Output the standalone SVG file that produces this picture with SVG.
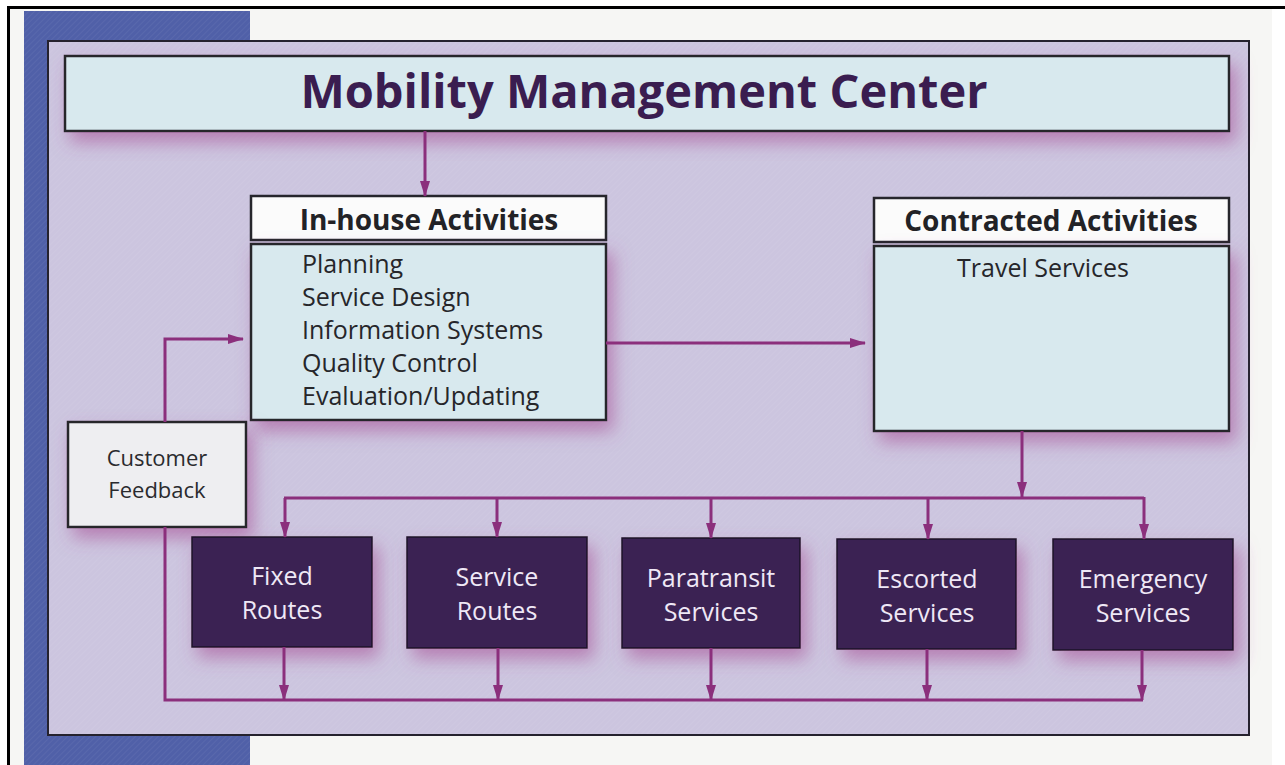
<svg xmlns="http://www.w3.org/2000/svg" width="1285" height="765" viewBox="0 0 1285 765">
  <defs>
    <style>
      .txt { font-family: "Open Sans", "Liberation Sans", sans-serif; }
      .title { font-size: 46px; font-weight: bold; fill: #3a1d50; }
      .head { font-size: 28px; font-weight: bold; fill: #222226; }
      .list { font-size: 25px; fill: #26262a; }
      .cf { font-size: 22px; fill: #2a2a2e; }
      .dark { font-size: 25px; fill: #efe8f6; }
      .lightbox { fill: #d8e9ee; stroke: #26262c; stroke-width: 2.5; }
      .whitebox { fill: #fbfbfb; stroke: #26262c; stroke-width: 2.5; }
      .darkbox { fill: #3a2452; stroke: #1e1428; stroke-width: 1.5; }
      .conn { fill: none; stroke: #8b2f7c; stroke-width: 3; }
    </style>
    <marker id="arr" viewBox="0 0 16 10" refX="15" refY="5" markerWidth="16" markerHeight="10" markerUnits="userSpaceOnUse" orient="auto">
      <path d="M0,0 L16,5 L0,10 Z" fill="#8b2f7c"/>
    </marker>
    <filter id="shadow" x="-20%" y="-30%" width="140%" height="170%">
      <feGaussianBlur in="SourceAlpha" stdDeviation="9"/>
      <feOffset dx="6" dy="10" result="b"/>
      <feFlood flood-color="#a3458f" flood-opacity="0.55"/>
      <feComposite in2="b" operator="in" result="s"/>
      <feMerge><feMergeNode in="s"/><feMergeNode in="SourceGraphic"/></feMerge>
    </filter>
    <pattern id="hatch" width="4" height="4" patternUnits="userSpaceOnUse" patternTransform="rotate(45)">
      <line x1="0" y1="0" x2="0" y2="4" stroke="#ffffff" stroke-width="1" stroke-opacity="0.1"/>
    </pattern>
  </defs>

  <!-- page background -->
  <rect x="0" y="0" width="1285" height="765" fill="#ffffff"/>
  <rect x="9" y="9" width="1263" height="756" fill="#f6f6f4"/>
  <rect x="24" y="11" width="226" height="754" fill="#5060a8"/>
  <rect x="24" y="11" width="226" height="754" fill="url(#hatch)"/>
  <line x1="8" y1="7.5" x2="1285" y2="7.5" stroke="#000" stroke-width="3"/>
  <line x1="8.5" y1="6" x2="8.5" y2="765" stroke="#000" stroke-width="3"/>

  <!-- main panel -->
  <rect x="48" y="41" width="1201" height="694" fill="#ccc5df" stroke="#25222e" stroke-width="2"/>
  <rect x="49" y="42" width="1199" height="692" fill="url(#hatch)"/>

  <!-- title -->
  <g id="title">
    <rect x="65" y="56" width="1164" height="75" class="lightbox" filter="url(#shadow)"/>
    <text x="644" y="108" text-anchor="middle" class="txt title" textLength="687" lengthAdjust="spacingAndGlyphs">Mobility Management Center</text>
  </g>

  <!-- in-house -->
  <g id="inhouse-header">
    <rect x="251" y="196" width="355" height="44" class="whitebox"/>
    <text x="429" y="230" text-anchor="middle" class="txt head">In-house Activities</text>
  </g>
  <g id="inhouse-body">
    <rect x="251" y="244" width="355" height="176" class="lightbox" filter="url(#shadow)"/>
    <text x="302" y="273" class="txt list">Planning</text>
    <text x="302" y="306" class="txt list">Service Design</text>
    <text x="302" y="339" class="txt list">Information Systems</text>
    <text x="302" y="372" class="txt list">Quality Control</text>
    <text x="302" y="405" class="txt list">Evaluation/Updating</text>
  </g>

  <!-- contracted -->
  <g id="contracted-header">
    <rect x="874" y="198" width="355" height="44" class="whitebox"/>
    <text x="1051" y="231" text-anchor="middle" class="txt head">Contracted Activities</text>
  </g>
  <g id="contracted-body">
    <rect x="874" y="246" width="355" height="185" class="lightbox" filter="url(#shadow)"/>
    <text x="1043" y="277" text-anchor="middle" class="txt list">Travel Services</text>
  </g>

  <!-- customer feedback -->
  <g id="customer-feedback">
    <rect x="68" y="422" width="178" height="105" fill="#eeeef1" stroke="#26262c" stroke-width="2.5" filter="url(#shadow)"/>
    <text x="157" y="466" text-anchor="middle" class="txt cf">Customer</text>
    <text x="157" y="498" text-anchor="middle" class="txt cf">Feedback</text>
  </g>

  <!-- service boxes -->
  <g id="fixed-routes">
    <rect x="192" y="537" width="180" height="110" class="darkbox" filter="url(#shadow)"/>
    <text x="282" y="585" text-anchor="middle" class="txt dark">Fixed</text>
    <text x="282" y="619" text-anchor="middle" class="txt dark">Routes</text>
  </g>
  <g id="service-routes">
    <rect x="407" y="537" width="180" height="111" class="darkbox" filter="url(#shadow)"/>
    <text x="497" y="586" text-anchor="middle" class="txt dark">Service</text>
    <text x="497" y="620" text-anchor="middle" class="txt dark">Routes</text>
  </g>
  <g id="paratransit-services">
    <rect x="622" y="538" width="178" height="110" class="darkbox" filter="url(#shadow)"/>
    <text x="711" y="587" text-anchor="middle" class="txt dark">Paratransit</text>
    <text x="711" y="621" text-anchor="middle" class="txt dark">Services</text>
  </g>
  <g id="escorted-services">
    <rect x="837" y="539" width="179" height="110" class="darkbox" filter="url(#shadow)"/>
    <text x="927" y="588" text-anchor="middle" class="txt dark">Escorted</text>
    <text x="927" y="622" text-anchor="middle" class="txt dark">Services</text>
  </g>
  <g id="emergency-services">
    <rect x="1053" y="539" width="180" height="111" class="darkbox" filter="url(#shadow)"/>
    <text x="1143" y="588" text-anchor="middle" class="txt dark">Emergency</text>
    <text x="1143" y="622" text-anchor="middle" class="txt dark">Services</text>
  </g>

  <!-- connectors -->
  <g id="connectors">
    <path class="conn" d="M425,131 L425,196" marker-end="url(#arr)"/>
    <path class="conn" d="M606,343 L865,343" marker-end="url(#arr)"/>
    <path class="conn" d="M165,422 L165,339 L243,339" marker-end="url(#arr)"/>
    <path class="conn" d="M1022,431 L1022,497" marker-end="url(#arr)"/>
    <path class="conn" d="M284,498 L1144,498"/>
    <path class="conn" d="M285,498 L285,537" marker-end="url(#arr)"/>
    <path class="conn" d="M497,498 L497,537" marker-end="url(#arr)"/>
    <path class="conn" d="M711,498 L711,538" marker-end="url(#arr)"/>
    <path class="conn" d="M928,498 L928,539" marker-end="url(#arr)"/>
    <path class="conn" d="M1144,497 L1144,539" marker-end="url(#arr)"/>
    <path class="conn" d="M165,527 L165,700 L1143,700"/>
    <path class="conn" d="M284,647 L284,700" marker-end="url(#arr)"/>
    <path class="conn" d="M498,648 L498,700" marker-end="url(#arr)"/>
    <path class="conn" d="M711,648 L711,700" marker-end="url(#arr)"/>
    <path class="conn" d="M927,649 L927,700" marker-end="url(#arr)"/>
    <path class="conn" d="M1142,650 L1142,700" marker-end="url(#arr)"/>
  </g>
</svg>
